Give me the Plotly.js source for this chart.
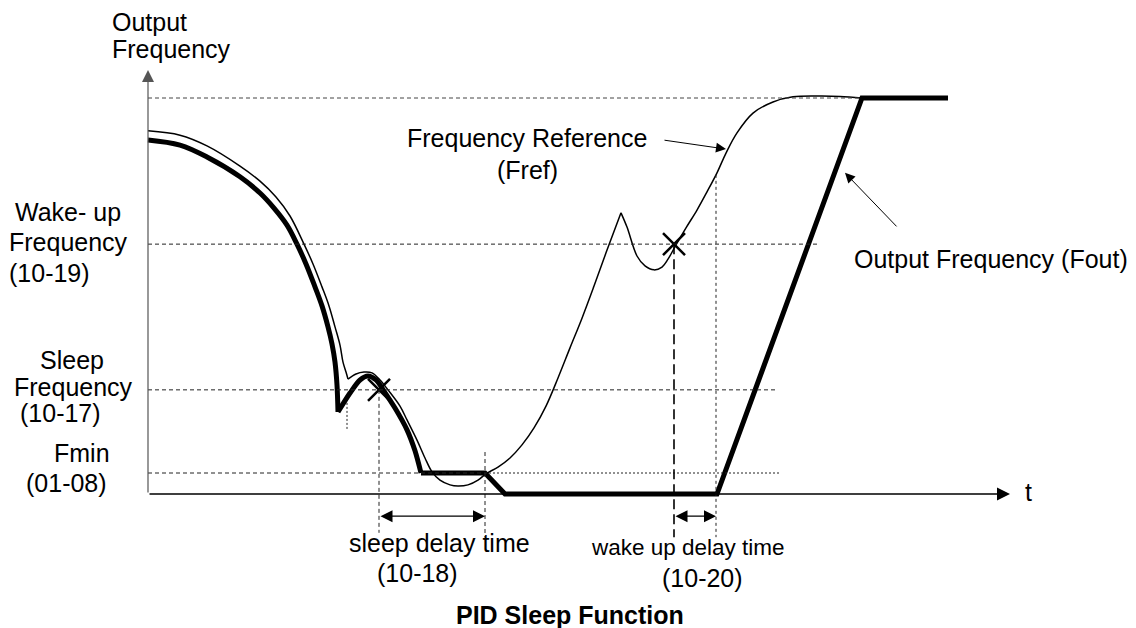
<!DOCTYPE html>
<html>
<head>
<meta charset="utf-8">
<script src="https://cdn.plot.ly/plotly-3.0.1.min.js"></script>
<style>html,body{margin:0;padding:0;background:#fff;}#chart{width:1136px;height:628px;}</style>
</head>
<body>
<div id="chart"></div>
<script>
// ---- levels (% of max output frequency) ----
const F_MAX = 100;
const F_WAKE = 63.1;
const F_SLEEP = 26.3;
const F_MIN = 5.3;

// ---- key times ----
const T_SLEEP_START = 23.1;   // Fout crosses sleep frequency
const T_SLEEP_END = 33.7;     // sleep delay elapsed
const T_WAKE_START = 52.6;    // Fref crosses wake-up frequency
const T_WAKE_END = 56.8;      // wake-up delay elapsed
const T_CUSP = 19.9;
const T_TOP = 71.4;

// ---- Frequency reference (Fref), three segments ----
const frefA_t = [0, 3.2, 5.9, 9.2, 11.2, 12.8, 14.2, 15.6, 16.5, 17.4, 18.1, 18.7, 19.2, 19.5, 19.8, 20.0];
const frefA_f = [91.7, 90.6, 87.9, 82.8, 79.0, 75.0, 70.2, 63.1, 58.1, 52.3, 47.5, 42.2, 37.6, 33.3, 30.8, 29.0];

const frefB_t = [20.0, 20.8, 21.6, 22.4, 23.2, 24.0, 25.2, 25.9, 26.9, 27.7, 28.4, 29.2, 30.2, 31.0, 32.0, 33.0, 33.8, 35.0, 36.2, 37.4, 38.6, 39.8, 41.0, 42.2, 43.4, 44.6, 45.8, 47.3];
const frefB_f = [29.0, 30.3, 30.8, 30.6, 28.8, 26.3, 22.2, 18.7, 13.6, 9.1, 5.6, 3.5, 2.3, 2.0, 2.3, 3.5, 5.1, 6.8, 9.1, 12.4, 16.7, 22.2, 29.3, 36.9, 44.4, 52.5, 60.9, 71.0];

const frefC_t = [47.3, 47.9, 48.9, 49.7, 50.6, 51.4, 52.0, 52.8, 53.8, 54.9, 55.9, 56.9, 57.8, 58.9, 60.5, 62.5, 64.5, 67.2, 69.2, 71.4];
const frefC_f = [71.0, 67.4, 60.1, 57.6, 56.6, 57.3, 59.3, 62.9, 67.2, 71.7, 76.3, 81.1, 86.1, 91.2, 96.2, 99.0, 100.3, 100.5, 100.4, 100.0];

// ---- Output frequency (Fout), three segments ----
const foutA_t = [0, 3.2, 5.9, 9.2, 11.2, 12.6, 13.9, 14.9, 15.8, 16.7, 17.4, 18.0, 18.4, 18.7, 18.9, 19.0];
const foutA_f = [89.4, 88.1, 85.1, 80.1, 76.0, 72.2, 67.9, 63.1, 58.1, 52.3, 47.5, 42.2, 37.9, 33.3, 27.5, 20.7];

const foutB_t = [19.0, 20.2, 21.2, 22.0, 22.8, 23.6, 24.7, 25.9, 26.7, 27.3];
const foutB_f = [20.7, 25.5, 28.8, 29.8, 28.8, 26.0, 21.7, 16.2, 10.9, 5.3];

const foutC_t = [27.3, 33.7, 35.7, 56.9, 71.4, 80.0];
const foutC_f = [5.3, 5.3, 0, 0, 100, 100];

// ---- crossing marks ----
const mark_t = [T_SLEEP_START, T_WAKE_START];
const mark_f = [F_SLEEP, F_WAKE];

// ---- text labels ----
const FONT = 'Liberation Sans, Arial, Helvetica, sans-serif';
const FS = 25;

const traces = [
  {x: foutA_t, y: foutA_f, mode: 'lines', line: {color: '#000', width: 5, shape: 'spline', smoothing: 1}},
  {x: foutB_t, y: foutB_f, mode: 'lines', line: {color: '#000', width: 5, shape: 'spline', smoothing: 0.8}},
  {x: foutC_t, y: foutC_f, mode: 'lines', line: {color: '#000', width: 5}},
  {x: frefA_t, y: frefA_f, mode: 'lines', line: {color: '#000', width: 1.5, shape: 'spline', smoothing: 1}},
  {x: frefB_t, y: frefB_f, mode: 'lines', line: {color: '#000', width: 1.5, shape: 'spline', smoothing: 1}},
  {x: frefC_t, y: frefC_f, mode: 'lines', line: {color: '#000', width: 1.5, shape: 'spline', smoothing: 1}},
  {x: mark_t, y: mark_f, mode: 'markers', marker: {symbol: 'x-thin', size: 22, line: {color: '#000', width: 2.5}}}
];

function hline(y, x0, x1, dash, color, w) {
  return {type: 'line', xref: 'x', yref: 'y', x0: x0, x1: x1, y0: y, y1: y,
          line: {color: color || '#333', width: w || 1, dash: dash}};
}
function vline(x, y0, y1, dash, color, w) {
  return {type: 'line', xref: 'x', yref: 'y', x0: x, x1: x, y0: y0, y1: y1,
          line: {color: color || '#333', width: w || 1, dash: dash}};
}

const shapes = [
  hline(F_MAX, 0, T_TOP, '4px,3px', '#444'),
  hline(F_WAKE, 0, 66.9, '4px,3px', '#222'),
  hline(F_SLEEP, 0, 62.9, '4px,3px', '#222'),
  hline(F_MIN, 0, T_SLEEP_END, '4px,3px', '#222'),
  hline(F_MIN, T_SLEEP_END, 63.2, '2px,2px', '#222'),
  vline(T_CUSP, 23.0, 16.2, '2px,2px', '#222'),
  vline(T_SLEEP_START, F_SLEEP, -9.8, '4px,3px', '#222'),
  vline(T_SLEEP_END, 10.6, -10.9, '4px,3px', '#222'),
  vline(T_WAKE_START, F_WAKE, -10.9, '10px,5px', '#000', 1.6),
  vline(T_WAKE_END, 80.6, -10.9, '3px,3px', '#222')
];

function txt(text, x, y, xanchor, size, bold) {
  return {text: bold ? '<b>' + text + '</b>' : text, x: x, y: y, xref: 'x', yref: 'y',
          xanchor: xanchor || 'center', yanchor: 'middle', showarrow: false,
          font: {family: FONT, size: size || FS, color: '#000'}};
}
function arrow(x, y, ax, ay, both, w, col) {
  return {text: '', x: x, y: y, ax: ax, ay: ay, xref: 'x', yref: 'y', axref: 'x', ayref: 'y',
          showarrow: true, arrowhead: 2, arrowsize: 2, arrowwidth: w || 1.2,
          startarrowhead: 2, startarrowsize: 2,
          arrowside: both ? 'end+start' : 'end', arrowcolor: col || '#000'};
}

const annotations = [
  // axes
  arrow(0, 107.1, 0, 0, false, 1.2, '#555'),
  arrow(86.2, 0, 0, 0, false, 1.3, '#000'),
  // pointers
  arrow(57.8, 87.1, 51.5, 89.4, false, 1, '#000'),
  arrow(69.7, 81.1, 75.0, 67.2, false, 1, '#000'),
  // delay spans
  arrow(T_SLEEP_END, -5.6, T_SLEEP_START, -5.6, true, 1.2),
  arrow(T_WAKE_END, -5.6, T_WAKE_START, -5.6, true, 1.2),
  // labels
  txt('Output', -3.8, 119.2, 'left'),
  txt('Frequency', -3.8, 112.4, 'left'),
  txt('Wake- up', -13.5, 71.2, 'left'),
  txt('Frequency', -14.1, 63.6, 'left'),
  txt('(10-19)', -14.1, 55.8, 'left'),
  txt('Sleep', -7.6, 33.8, 'center'),
  txt('Frequency', -7.5, 27.0, 'center'),
  txt('(10-17)', -8.8, 20.5, 'center'),
  txt('Fmin', -3.6, 10.4, 'right'),
  txt('(01-08)', -3.9, 2.8, 'right'),
  txt('Frequency Reference', 37.9, 89.9, 'center'),
  txt('(Fref)', 37.9, 81.8, 'center'),
  txt('Output Frequency (Fout)', 84.3, 59.3, 'center'),
  txt('sleep delay time', 29.1, -12.4, 'center'),
  txt('(10-18)', 26.9, -19.9, 'center'),
  txt('wake up delay time', 54.0, -13.6, 'center', 22.5),
  txt('(10-20)', 55.4, -21.2, 'center'),
  txt('PID Sleep Function', 42.2, -30.6, 'center', FS, true),
  txt('t', 88.0, 0.5, 'center')
];

const layout = {
  width: 1136, height: 628,
  margin: {l: 0, r: 0, t: 0, b: 0, pad: 0},
  paper_bgcolor: '#fff', plot_bgcolor: '#fff',
  showlegend: false,
  xaxis: {range: [-14.8, 98.8], visible: false, fixedrange: true},
  yaxis: {range: [-33.84, 124.75], visible: false, fixedrange: true},
  shapes: shapes,
  annotations: annotations,
  font: {family: FONT, size: FS, color: '#000'}
};

Plotly.newPlot('chart', traces, layout, {staticPlot: true, displayModeBar: false});
</script>
</body>
</html>
